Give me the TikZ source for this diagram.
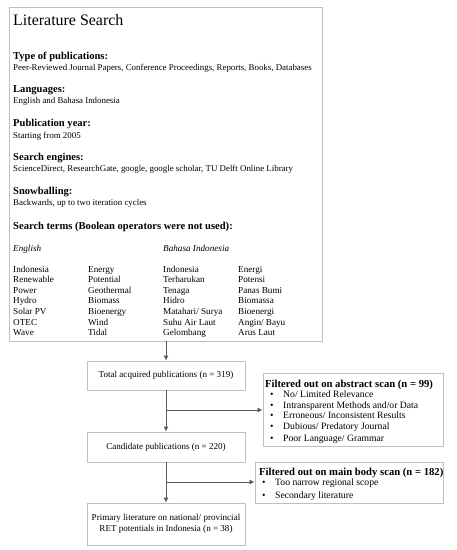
\documentclass[tikz,border=0pt]{standalone}
\usepackage{fontspec}
\setmainfont{Liberation Serif}
\usetikzlibrary{arrows.meta}

\tikzstyle{caja}= [rectangle,draw=black!25,line width=0.8bp,inner sep=0pt,fill=white]
\tikzstyle{paso}= [caja,minimum width=158bp,align=center,font=\fontsize{9.1}{11}\selectfont]
\tikzstyle{linea}= [anchor=base west,inner sep=0pt,font=\fontsize{8.9}{10}\selectfont]
\tikzstyle{termino}= [anchor=base west,inner sep=0pt,font=\fontsize{9.2}{10}\selectfont]
\tikzstyle{punto}= [anchor=base west,inner sep=0pt,font=\fontsize{9.7}{10}\selectfont]
\tikzstyle{titulo}= [anchor=base west,inner sep=0pt,font=\fontsize{10.6}{12}\selectfont\bfseries]
\tikzstyle{filtro}= [anchor=base west,inner sep=0pt,font=\fontsize{10.7}{12}\selectfont\bfseries]
\tikzstyle{flujo}= [draw=black!65,line width=0.9bp,-{Latex[length=5bp,width=5bp]}]

\begin{document}
\begin{tikzpicture}[x=1bp,y=-1bp]
		\useasboundingbox (0,0) rectangle (457,550);

		% caja de busqueda
		\node (busq) at (165.5,174) [caja,minimum width=313bp,minimum height=334bp] {};
		\node (tit) at (13,26) [anchor=base west,inner sep=0pt,font=\fontsize{16}{18}\selectfont] {Literature Search};

		\node at (13,60) [titulo] {Type of publications:};
		\node at (13,71) [linea] {Peer-Reviewed Journal Papers, Conference Proceedings, Reports, Books, Databases};
		\node at (13,93) [titulo] {Languages:};
		\node at (13,104) [linea] {English and Bahasa Indonesia};
		\node at (13,127) [titulo] {Publication year:};
		\node at (13,139) [linea] {Starting from 2005};
		\node at (13,161) [titulo] {Search engines:};
		\node at (13,172) [linea] {ScienceDirect, ResearchGate, google, google scholar, TU Delft Online Library};
		\node at (13,195) [titulo] {Snowballing:};
		\node at (13,206) [linea] {Backwards, up to two iteration cycles};
		\node at (13,229) [titulo] {Search terms (Boolean operators were not used):};

		\node at (13,251) [termino] {\itshape English};
		\node at (163,251) [termino] {\itshape Bahasa Indonesia};

		\foreach \en/\enb/\id/\idb [count=\i from 0] in {Indonesia/Energy/Indonesia/Energi,
			Renewable/Potential/Terbarukan/Potensi, Power/Geothermal/Tenaga/Panas Bumi,
			Hydro/Biomass/Hidro/Biomassa, Solar PV/Bioenergy/Matahari\slash\ Surya/Bioenergi,
			OTEC/Wind/Suhu Air Laut/Angin\slash\ Bayu, Wave/Tidal/Gelombang/Arus Laut}{
			\node at (13,272+10.6*\i) [termino] {\en};
			\node at (88,272+10.6*\i) [termino] {\enb};
			\node at (163,272+10.6*\i) [termino] {\id};
			\node at (238,272+10.6*\i) [termino] {\idb};
		}

		% pasos
		\node (total) at (166,375.5) [paso,minimum height=29bp] {Total acquired publications (n = 319)};
		\node (cand) at (166,447) [paso,minimum height=30bp] {Candidate publications (n = 220)};
		\node (prim) at (166,524) [paso,minimum height=42bp] {Primary literature on national/ provincial\\RET potentials in Indonesia (n = 38)};

		% filtros
		\node (f1) at (353,409.5) [caja,minimum width=180bp,minimum height=73bp] {};
		\node at (265,387) [filtro] {Filtered out on abstract scan (n = 99)};
		\foreach \yy/\txt in {397/No\slash\ Limited Relevance, 408/Intransparent Methods and\slash or Data,
			418/Erroneous\slash\ Inconsistent Results, 429/Dubious\slash\ Predatory Journal, 441/Poor Language\slash\ Grammar}{
			\node at (270,\yy) [punto] {\textbullet};
			\node at (283,\yy) [punto] {\txt};
		}

		\node (f2) at (349,482.5) [caja,minimum width=188bp,minimum height=41bp] {};
		\node at (259,475) [filtro] {Filtered out on main body scan (n = 182)};
		\node at (262,485) [punto] {\textbullet};
		\node at (275,485) [punto] {Too narrow regional scope};
		\node at (262,498) [punto] {\textbullet};
		\node at (275,498) [punto] {Secondary literature};

		% flechas
		\coordinate (r1) at (166,410);
		\coordinate (r2) at (166,482);
		\path[flujo] (busq.south -| total.north) -- (total);
		\path[flujo] (total) -- (cand);
		\path[flujo] (cand) -- (prim);
		\path[flujo] (r1) -- (r1 -| f1.west);
		\path[flujo] (r2) -- (r2 -| f2.west);
\end{tikzpicture}
\end{document}
